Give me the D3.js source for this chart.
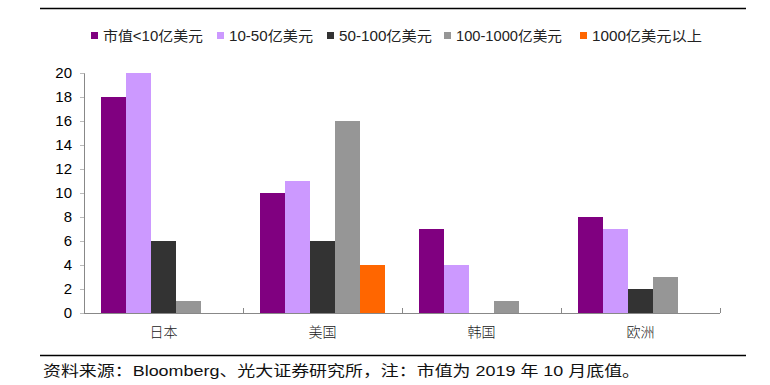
<!DOCTYPE html>
<html>
<head>
<meta charset="utf-8">
<script src="https://cdn.jsdelivr.net/npm/d3@7"></script>
<style>
  body { margin: 0; background: #fff; }
  svg text { font-family: "Liberation Sans", Arial, "Noto Sans CJK SC", sans-serif; fill: #000; }
</style>
</head>
<body>
<div id="chart"></div>
<script>
const categories = ["日本", "美国", "韩国", "欧洲"];
const seriesNames = ["市值<10亿美元", "10-50亿美元", "50-100亿美元", "100-1000亿美元", "1000亿美元以上"];
const seriesColors = ["#800080", "#cc99ff", "#333333", "#969696", "#ff6600"];
const small = [18, 10, 7, 8];
const mid = [20, 11, 4, 7];
const large = [6, 6, 0, 2];
const xlarge = [1, 16, 1, 3];
const giant = [0, 4, 0, 0];
const yTicks = [0, 2, 4, 6, 8, 10, 12, 14, 16, 18, 20];
const footnote = "资料来源：Bloomberg、光大证券研究所，注：市值为 2019 年 10 月底值。";

const series = [small, mid, large, xlarge, giant];

const W = 770, H = 385;
const margin = { left: 84, right: 50, top: 73, bottom: 72 };

const svg = d3.select("#chart").append("svg")
    .attr("width", W).attr("height", H);

// top and bottom rules
svg.append("line").attr("x1", 40).attr("x2", 746).attr("y1", 8.5).attr("y2", 8.5)
    .style("stroke", "#000").style("stroke-width", 1.3);
svg.append("line").attr("x1", 40).attr("x2", 746).attr("y1", 355.5).attr("y2", 355.5)
    .style("stroke", "#000").style("stroke-width", 1.3);

const x0 = d3.scaleBand().domain(categories)
    .range([margin.left, W - margin.right]).paddingInner(0).paddingOuter(0);
const x1 = d3.scaleBand().domain(d3.range(seriesNames.length))
    .range([0, x0.bandwidth()]).paddingOuter(0.68).paddingInner(0);
const y = d3.scaleLinear().domain([0, 20]).range([H - margin.bottom, margin.top]);

// bars
categories.forEach((c, ci) => {
    svg.append("g").selectAll("rect")
        .data(series.map((s, si) => ({ si, v: s[ci] })).filter(d => d.v > 0))
        .enter().append("rect")
        .attr("x", d => x0(c) + x1(d.si))
        .attr("width", x1.bandwidth())
        .attr("y", d => y(d.v))
        .attr("height", d => y(0) - y(d.v))
        .style("fill", d => seriesColors[d.si]);
});

// y axis
const yAxis = svg.append("g")
    .attr("transform", `translate(${margin.left},0)`)
    .call(d3.axisLeft(y).tickValues(yTicks).tickSize(4).tickPadding(8));
yAxis.select(".domain").style("stroke", "#888");
yAxis.selectAll(".tick line").style("stroke", "#bbb");
yAxis.selectAll("text").style("font-size", "15px").style("font-family", "Liberation Sans, Arial, sans-serif");

// x axis
const base = y(0);
svg.append("line").attr("x1", margin.left).attr("x2", W - margin.right)
    .attr("y1", base + 0.5).attr("y2", base + 0.5).style("stroke", "#888");
const bounds = categories.map(c => x0(c)).concat([x0(categories[categories.length - 1]) + x0.bandwidth()]);
svg.append("g").selectAll("line").data(bounds).enter().append("line")
    .attr("x1", d => Math.round(d) + 0.5).attr("x2", d => Math.round(d) + 0.5)
    .attr("y1", base - 5).attr("y2", base)
    .style("stroke", "#888");
svg.append("g").selectAll("text").data(categories).enter().append("text")
    .attr("x", d => x0(d) + x0.bandwidth() / 2)
    .attr("y", base + 24)
    .attr("text-anchor", "middle")
    .style("font-size", "14px")
    .style("font-family", "Noto Sans CJK SC, sans-serif")
    .style("font-weight", 300)
    .style("fill", "#222")
    .text(d => d);

// legend - positions/widths
const legendX = [91, 217, 327, 444, 580];
const legendW = [100, 84, 93, 106, 110];
const legend = svg.append("g");
seriesNames.forEach((name, i) => {
    legend.append("rect").attr("x", legendX[i]).attr("y", 32)
        .attr("width", 7).attr("height", 7).style("fill", seriesColors[i]);
    legend.append("text").attr("x", legendX[i] + 12).attr("y", 40.5)
        .attr("textLength", legendW[i])
        .attr("lengthAdjust", "spacingAndGlyphs")
        .style("font-size", "14px")
        .style("fill", "#222")
        .text(name);
});

// footnote
svg.append("text").attr("x", 43).attr("y", 375.5)
    .attr("textLength", 597)
    .attr("lengthAdjust", "spacingAndGlyphs")
    .style("font-size", "15px")
    .style("fill", "#111")
    .text(footnote);
</script>
</body>
</html>
